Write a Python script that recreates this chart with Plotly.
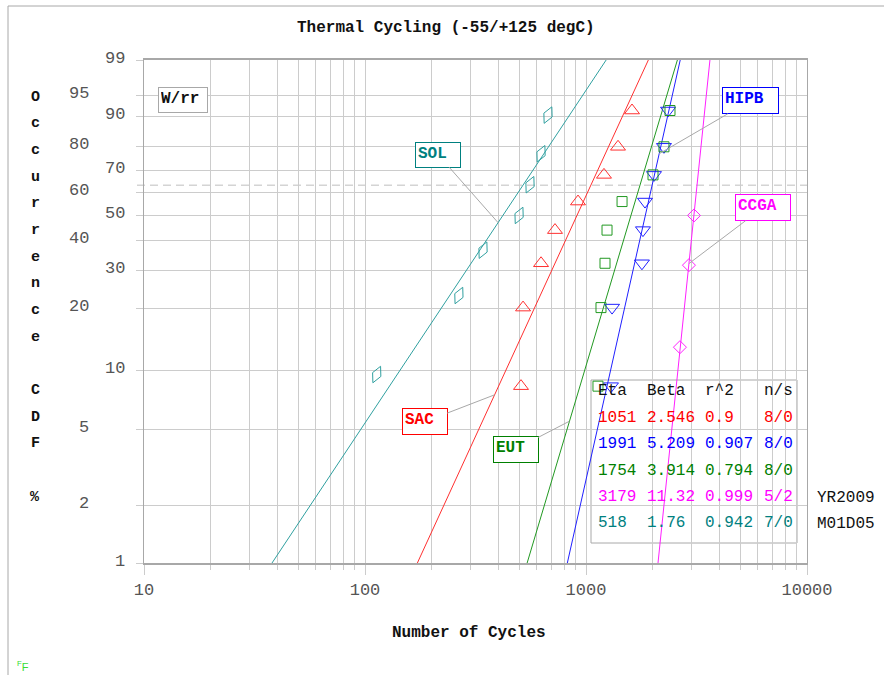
import numpy as np
import plotly.graph_objects as go

# ---- Weibull fits (one entry per assembly) ----
names = ["SAC", "HIPB", "EUT", "CCGA", "SOL"]
line_colors = ["#ff3030", "#2020ff", "#229922", "#ff20ff", "#30a0a0"]
text_colors = ["#ff0000", "#0000ff", "#008000", "#ff00ff", "#008080"]
eta = [1051, 1991, 1754, 3179, 518]
beta = [2.546, 5.209, 3.914, 11.32, 1.76]
r2 = ["0.9", "0.907", "0.794", "0.999", "0.942"]
n_s = ["8/0", "8/0", "8/0", "5/2", "7/0"]

# ---- failure points: cycles and plotted occurrence CDF (%) ----
sac_cycles = [508, 519, 626, 724, 920, 1206, 1396, 1615]
sac_cdf = [8.3, 20.2, 32.1, 44.0, 56.0, 67.9, 79.8, 91.7]
hipb_cycles = [1297, 1312, 1791, 1810, 1849, 2031, 2253, 2350]
hipb_cdf = [8.3, 20.2, 32.1, 44.0, 56.0, 67.9, 79.8, 91.7]
eut_cycles = [1133, 1169, 1219, 1245, 1456, 2010, 2253, 2399]
eut_cdf = [8.3, 20.2, 32.1, 44.0, 56.0, 67.9, 79.8, 91.7]
ccga_cycles = [2661, 2923, 3080]
ccga_cdf = [13.0, 31.5, 50.0]
sol_cycles = [113, 266, 342, 498, 558, 626, 673]
sol_cdf = [9.5, 23.0, 36.5, 50.0, 63.5, 77.0, 90.5]

cycles = [sac_cycles, hipb_cycles, eut_cycles, ccga_cycles, sol_cycles]
cdfs = [sac_cdf, hipb_cdf, eut_cdf, ccga_cdf, sol_cdf]
symbols = ["triangle-up-open", "triangle-down-open", "square-open",
           "diamond-open", "diamond-tall-open"]
sizes = [13, 13, 10, 10, 13]
angles = [0, 0, 0, 0, 25]

# percent ticks on the Weibull probability scale
y_ticks = [1, 2, 5, 10, 20, 30, 40, 50, 60, 70, 80, 90, 95, 99]
y_ticks_right = [99, 90, 70, 50, 30, 10, 1]
x_ticks = [10, 100, 1000, 10000]
x_minor = [m * d for d in (10, 100, 1000) for m in range(2, 10)]

# callout labels: which fitted line each one points to (CDF %), offset in px
label_cdf = [7.5, 77.0, 5.5, 32.0, 47.0]
label_offset = [(-70, 27), (91, -53), (-54, 28), (74, -56), (-60, -68)]
label_box = [(46, 27), (57, 27), (46, 27), (56, 27), (46, 26)]


def wb(p):
    """Weibull probability-paper coordinate for a CDF in percent."""
    p = np.asarray(p, dtype=float) / 100.0
    return np.log(-np.log(1.0 - p))


# plot-area geometry in pixels
W, H = 884, 675
L, R, T, B = 144, 77, 60, 112
PW, PH = W - L - R, H - T - B


def px(x):
    return (x - L) / PW


def py(y):
    return (H - B - y) / PH


MONO = "Courier New, Liberation Mono, monospace"
fig = go.Figure()

y_lo, y_hi = float(wb(1)), float(wb(99))

for i in range(len(names)):
    w_ends = np.array([y_lo, y_hi])
    t_ends = eta[i] * np.exp(w_ends / beta[i])
    fig.add_trace(go.Scatter(
        x=t_ends, y=w_ends, mode="lines",
        line=dict(color=line_colors[i], width=1),
        hoverinfo="skip", showlegend=False, cliponaxis=True))

for i in range(len(names)):
    fig.add_trace(go.Scatter(
        x=cycles[i], y=wb(cdfs[i]), mode="markers",
        marker=dict(symbol=symbols[i], size=sizes[i], angle=angles[i],
                    color=line_colors[i], line=dict(width=1, color=line_colors[i])),
        name=names[i], showlegend=False))

# characteristic-life reference line (63.2 %)
fig.add_shape(type="line", xref="paper", yref="y", x0=px(137), x1=1, y0=0, y1=0,
              line=dict(color="#d4d4d4", width=1.5, dash="8px,5px"), layer="between")

# parameter table frame
fig.add_shape(type="rect", xref="paper", yref="paper",
              x0=px(591), x1=px(797), y0=py(543), y1=py(380),
              line=dict(color="#a8a8a8", width=1), fillcolor="white", layer="between")

# outer figure frame
fig.add_shape(type="line", xref="paper", yref="paper", x0=px(8), x1=px(8),
              y0=py(6), y1=py(700), line=dict(color="#a8a8a8", width=1))
fig.add_shape(type="line", xref="paper", yref="paper", x0=px(8), x1=px(900),
              y0=py(6), y1=py(6), line=dict(color="#a8a8a8", width=1))


def text_at(text, x, y, size=16, color="#111", xanchor="center", **kw):
    return dict(text=text, xref="paper", yref="paper", x=px(x), y=py(y),
                xanchor=xanchor, yanchor="middle", showarrow=False,
                font=dict(family=kw.pop("family", MONO), size=size, color=color), **kw)


ann = []
# title and axis titles
ann.append(text_at("<b>Thermal Cycling (-55/+125 degC)</b>", 446, 28))
ann.append(text_at("<b>Number of Cycles</b>", 469, 633))
for k, ch in enumerate("Occurrence CDF %"):
    if ch != " ":
        ann.append(text_at("<b>%s</b>" % ch, 35, 97 + k * 400 / 15, size=15))

# staggered percent tick labels
for p in y_ticks:
    right = p in y_ticks_right
    ann.append(dict(text=str(p), xref="paper", yref="y", x=px(127 if right else 91),
                    y=float(wb(p)), xanchor="right", yanchor="middle", yshift=2,
                    showarrow=False, font=dict(family=MONO, size=17, color="#555")))

# method tag
ann.append(dict(text="<b>W/rr</b>", xref="paper", yref="paper", x=px(158), y=py(87),
                xanchor="left", yanchor="top", width=44, height=20, align="left",
                valign="top", showarrow=False, bgcolor="white", bordercolor="#a8a8a8",
                borderwidth=1, borderpad=2, font=dict(family=MONO, size=16, color="#111")))

# callouts on each fitted line
for i in range(len(names)):
    w0 = float(wb(label_cdf[i]))
    t0 = eta[i] * np.exp(w0 / beta[i])
    bw, bh = label_box[i]
    ann.append(dict(text="<b>%s</b>" % names[i], x=np.log10(t0), y=w0, xref="x", yref="y",
                    showarrow=True, arrowhead=0, arrowwidth=1, arrowcolor="#a8a8a8",
                    ax=label_offset[i][0], ay=label_offset[i][1],
                    width=bw - 6, height=bh - 6, align="left", valign="top",
                    bgcolor="white", bordercolor=text_colors[i], borderwidth=1, borderpad=2,
                    font=dict(family=MONO, size=16, color=text_colors[i])))

# parameter table
col_x = [596, 645, 703, 762]
header = ["Eta", "Beta", "r^2", "n/s"]
for c, h in enumerate(header):
    ann.append(text_at(h, col_x[c], 391, xanchor="left"))
for i in range(len(names)):
    cells = [str(eta[i]), str(beta[i]), r2[i], n_s[i]]
    for c, s in enumerate(cells):
        ann.append(text_at(s, col_x[c], 418 + i * 26.3, color=text_colors[i], xanchor="left"))

ann.append(text_at("YR2009", 815, 498, xanchor="left"))
ann.append(text_at("M01D05", 815, 524, xanchor="left"))
ann.append(text_at("<sup>F</sup>F", 15, 666, size=11, color="#33dd33", xanchor="left",
                   family="Liberation Sans"))

grid_c = "#cccccc"
fig.update_layout(
    width=W, height=H, margin=dict(l=L, r=R, t=T, b=B, autoexpand=False),
    paper_bgcolor="white", plot_bgcolor="white", annotations=ann,
    xaxis=dict(type="log", range=[1, 4], tickvals=x_ticks, ticktext=[str(v) for v in x_ticks],
               ticks="outside", ticklen=10, tickcolor=grid_c, showgrid=True, gridcolor=grid_c,
               gridwidth=1, showline=True, linecolor="#a8a8a8", linewidth=1.5, mirror=True,
               zeroline=False, tickfont=dict(family=MONO, size=17, color="#555"),
               minor=dict(tickvals=x_minor, ticks="outside", ticklen=5, tickcolor=grid_c,
                          showgrid=True, gridcolor=grid_c, gridwidth=1)),
    yaxis=dict(range=[y_lo, y_hi], tickvals=[float(v) for v in wb(y_ticks)],
               showticklabels=False, ticks="outside", ticklen=7, tickcolor=grid_c,
               showgrid=True, gridcolor=grid_c, gridwidth=1, showline=True,
               linecolor="#a8a8a8", linewidth=1, mirror=True, zeroline=False),
)

fig.write_html("out.html")
